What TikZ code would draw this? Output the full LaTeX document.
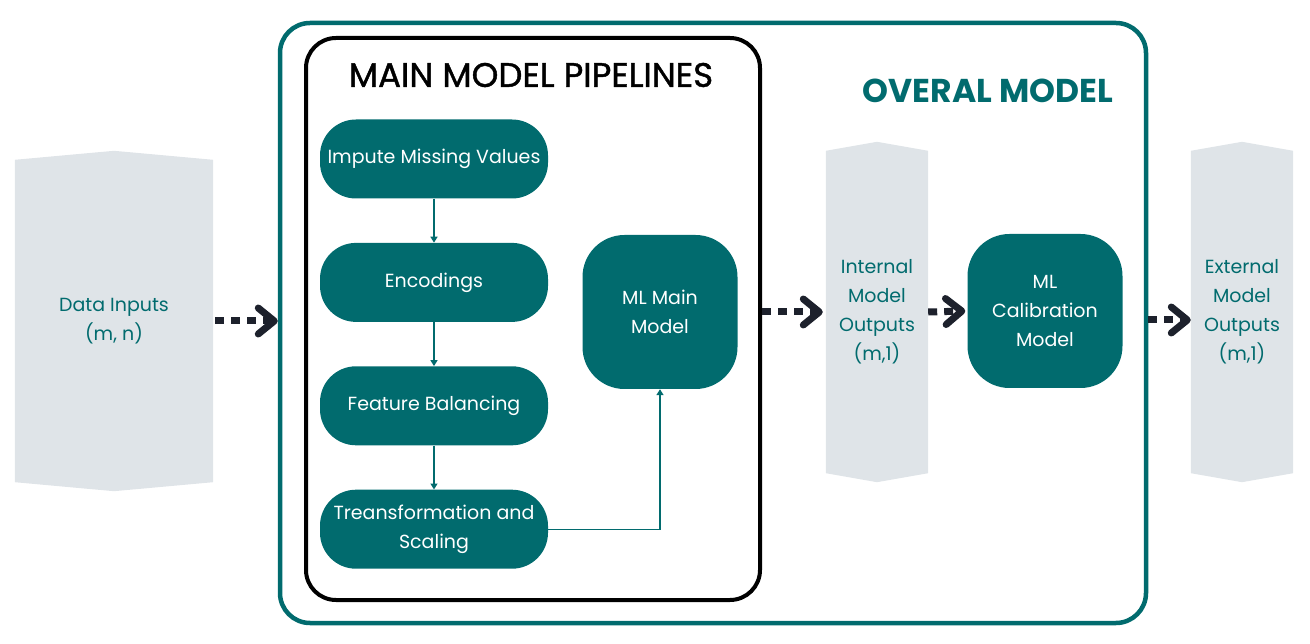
\documentclass[tikz,border=0pt]{standalone}
\usepackage{fontspec,xcolor,tikz}
\setmainfont{Poppins}
\newfontfamily\titlefont[FakeBold=1.2]{Poppins}
\usetikzlibrary{arrows.meta,positioning,backgrounds,calc}
\definecolor{deepteal}{HTML}{016B6E}
\definecolor{paneg}{HTML}{DFE4E8}
\definecolor{ink}{HTML}{1D212C}
\newcommand{\boxtxt}{\fontsize{19}{29}\selectfont}
\newcommand{\heading}{\fontsize{34}{38}\selectfont}

\begin{document}
\begin{tikzpicture}[x=1pt,y=-1pt,
  stage/.style={fill=deepteal,text=white,font=\boxtxt,rounded corners=36pt,minimum width=228pt,minimum height=79pt,inner sep=0pt,align=center},
  model/.style={stage,minimum width=155pt,minimum height=154pt,rounded corners=42pt},
  panel/.style={minimum width=102pt,minimum height=322pt,inner sep=0pt,text=deepteal,font=\boxtxt,align=center},
  link/.style={deepteal,line width=1.4pt,-{Triangle[length=6pt,width=7pt]}},
  flow/.style={ink,line width=7pt,dash pattern=on 9pt off 7pt,-{Straight Barb[length=16pt,width=26pt,round]}}]
\useasboundingbox (0,0) rectangle (1310,644);
% frames
\node[draw=deepteal,line width=4.5pt,rounded corners=30pt,minimum width=866pt,minimum height=600pt,inner sep=0pt] (overall) at (713,323) {};
\node[draw=black,line width=4pt,rounded corners=30pt,minimum width=454pt,minimum height=562pt,inner sep=0pt] (pipes) at (533,319) {};
\node[font=\heading\titlefont] (pipestitle) at (531,75) {MAIN MODEL PIPELINES};
\node[font=\fontsize{33}{38}\selectfont\bfseries,text=deepteal] (overaltitle) at (988,91) {OVERAL MODEL};
% pipeline steps
\node[stage] (impute) at (434,159) {Impute Missing Values};
\node[stage,below=44pt of impute] (encode) {Encodings};
\node[stage,below=44pt of encode] (balance) {Feature Balancing};
\node[stage,below=44pt of balance] (scale) {Treansformation and\\Scaling};
\node[model] (mainml) at (660,312) {ML Main\\Model};
\node[model] (calib) at (1045,311) {ML\\Calibration\\Model};
% data panels
\node[panel,minimum width=198pt] (datain) at (114,321) {Data Inputs\\(m, n)};
\node[panel] (intout) at (877,312) {Internal\\Model\\Outputs\\(m,1)};
\node[panel] (extout) at (1242,312) {External\\Model\\Outputs\\(m,1)};
\begin{scope}[on background layer]
\foreach \p in {datain,intout,extout}
  \fill[paneg] (\p.north west) -- ($(\p.north)+(0,-9)$) -- (\p.north east)
    -- (\p.south east) -- ($(\p.south)+(0,9)$) -- (\p.south west) -- cycle;
\end{scope}
% links
\draw[link] (impute) -- (encode);
\draw[link] (encode) -- (balance);
\draw[link] (balance) -- (scale);
\draw[link] (scale.east) -| (mainml.south);
% flows
\coordinate (extin) at ([yshift=-8pt]extout.west);
\draw[flow] ([xshift=2pt]datain.east) -- (datain.east -| overall.west);
\draw[flow] (pipes.east |- intout.west) -- ([xshift=-3pt]intout.west);
\draw[flow] (intout.east) -- ([xshift=-2pt]calib.west);
\draw[flow] (overall.east |- extin) -- (extin);
\end{tikzpicture}
\end{document}
